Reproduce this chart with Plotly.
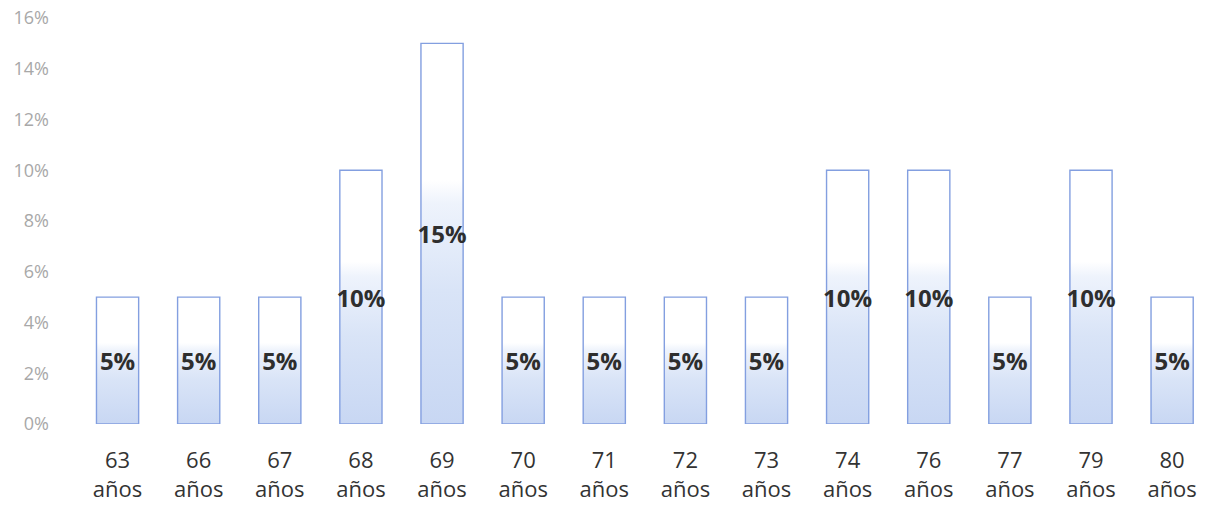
import plotly.graph_objects as go

# Distribución por edad (porcentaje de casos)
edades = ["63", "66", "67", "68", "69", "70", "71", "72", "73", "74", "76", "77", "79", "80"]
porcentajes = [5, 5, 5, 10, 15, 5, 5, 5, 5, 10, 10, 5, 10, 5]
etiquetas_x = [f"{e}<br>años" for e in edades]
ticks_y = [0, 2, 4, 6, 8, 10, 12, 14, 16]
etiquetas_y = [f"{t}%" for t in ticks_y]

ANCHO = 0.52
posiciones = list(range(len(edades)))

fig = go.Figure()

# Relleno degradado de cada barra (azul abajo, blanco arriba)
for x, v in zip(posiciones, porcentajes):
    x0, x1 = x - ANCHO / 2, x + ANCHO / 2
    fig.add_trace(go.Scatter(
        x=[x0, x1, x1, x0, x0],
        y=[0, 0, v, v, 0],
        mode="none",
        fill="toself",
        fillgradient=dict(
            type="vertical",
            start=0,
            stop=v,
            colorscale=[[0, "#c8d7f3"], [0.35, "#d9e4f7"], [0.58, "#eef3fc"],
                        [0.64, "#ffffff"], [1, "#ffffff"]],
        ),
        hoverinfo="skip",
        showlegend=False,
        xaxis="x", yaxis="y",
    ))

# Barras con contorno y etiqueta de valor, en un eje superpuesto
fig.add_trace(go.Bar(
    x=posiciones,
    y=porcentajes,
    width=ANCHO,
    marker=dict(color="rgba(0,0,0,0)", line=dict(color="#839fe0", width=1.4)),
    text=[f"{v}%" for v in porcentajes],
    textposition="inside",
    insidetextanchor="middle",
    textangle=0,
    constraintext="none",
    textfont=dict(family="Open Sans", size=24, color="#2e2e2e", weight="bold"),
    showlegend=False,
    xaxis="x2", yaxis="y2",
))

rango_x = [-0.5, 13.43]
rango_y = [0, 16]

fig.update_layout(
    width=1207, height=506,
    margin=dict(l=77, r=0, t=18, b=82, autoexpand=False),
    paper_bgcolor="white",
    plot_bgcolor="white",
    xaxis=dict(
        range=rango_x,
        tickmode="array", tickvals=posiciones, ticktext=etiquetas_x,
        tickfont=dict(family="Open Sans", size=22, color="#333333"),
        showgrid=False, zeroline=False, showline=False, ticks="",
        ticklabelstandoff=21,
    ),
    yaxis=dict(
        range=rango_y,
        tickmode="array", tickvals=ticks_y, ticktext=etiquetas_y,
        tickfont=dict(family="Open Sans", size=18, color="#a8a8a8"),
        showgrid=False, zeroline=False, showline=False, ticks="",
        ticklabelstandoff=27,
    ),
    xaxis2=dict(range=rango_x, overlaying="x", visible=False),
    yaxis2=dict(range=rango_y, overlaying="y", visible=False),
)

fig.write_html("out.html")
